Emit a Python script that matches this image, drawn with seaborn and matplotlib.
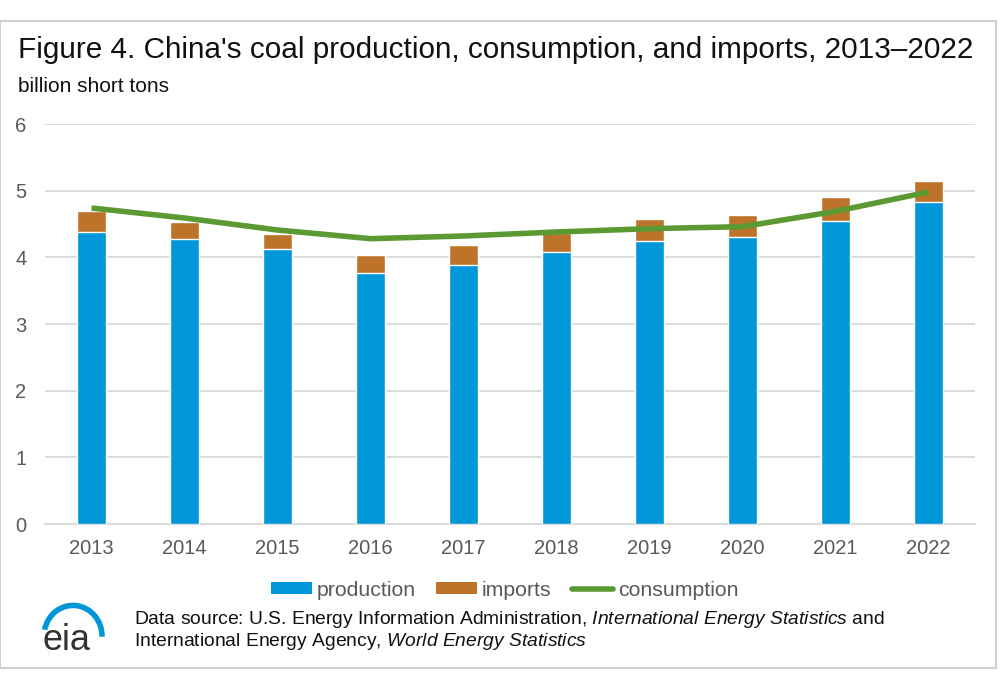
import numpy as np
import pandas as pd
import matplotlib
matplotlib.use("Agg")
import matplotlib.pyplot as plt
import seaborn as sns
from matplotlib.patches import Patch, Rectangle, Arc
from matplotlib.lines import Line2D

years = ["2013", "2014", "2015", "2016", "2017", "2018", "2019", "2020", "2021", "2022"]
production = [4.38, 4.27, 4.13, 3.76, 3.88, 4.08, 4.24, 4.30, 4.54, 4.83]
imports = [0.31, 0.26, 0.22, 0.27, 0.30, 0.29, 0.33, 0.34, 0.36, 0.31]
consumption = [4.74, 4.59, 4.41, 4.28, 4.32, 4.38, 4.43, 4.46, 4.69, 4.98]

BLUE = "#0096D7"
ORANGE = "#BD732A"
GREEN = "#5B9A32"

sns.set_theme(style="white")
FONT = ["Liberation Sans", "DejaVu Sans"]
plt.rcParams["font.family"] = FONT
plt.rcParams["mathtext.fontset"] = "custom"
plt.rcParams["mathtext.rm"] = "Liberation Sans"
plt.rcParams["mathtext.it"] = "Liberation Sans:italic"

df = pd.DataFrame({"year": years, "production": production, "imports": imports,
                   "consumption": consumption})
df["total"] = df["production"] + df["imports"]

fig = plt.figure(figsize=(10, 6.8), dpi=100)
ax = fig.add_axes([0.045, 1 - 524 / 680, 0.93, 400 / 680])

sns.barplot(data=df, x="year", y="total", color=ORANGE, width=0.31,
            saturation=1, ax=ax, zorder=2)
sns.barplot(data=df, x="year", y="production", color=BLUE, width=0.31,
            saturation=1, ax=ax, zorder=3)
sns.pointplot(data=df, x="year", y="consumption", color=GREEN, markers="",
              linestyles="-", ax=ax, zorder=4)
for ln in ax.lines:
    ln.set_linewidth(4)
    ln.set_solid_capstyle("butt")

ax.set_ylim(0, 6)
ax.set_xlim(-0.5, 9.5)
ax.set_yticks(range(0, 7))
ax.yaxis.grid(True, color="#D9D9D9", linewidth=1.3, zorder=0)
ax.set_axisbelow(True)
for s in ["top", "right", "left"]:
    ax.spines[s].set_visible(False)
ax.spines["bottom"].set_color("#D9D9D9")
ax.spines["bottom"].set_linewidth(1.3)
ax.set_xlabel("")
ax.set_ylabel("")
ax.tick_params(axis="both", length=0, labelsize=14.5, colors="#595959")
ax.tick_params(axis="x", pad=11)
for t in ax.get_yticklabels():
    t.set_horizontalalignment("left")
ax.tick_params(axis="y", pad=21.5)

fig.text(0.018, 1 - 50 / 680, "Figure 4. China's coal production, consumption, and imports, 2013\u20132022",
         fontsize=21.4, color="#111111", va="center", ha="left")
fig.text(0.018, 1 - 87 / 680, "billion short tons", fontsize=15,
         color="#111111", va="center", ha="left")

handles = [Patch(facecolor=BLUE, edgecolor="none"),
           Patch(facecolor=ORANGE, edgecolor="none"),
           Line2D([0], [0], color=GREEN, linewidth=4)]
fig.legend(handles, ["production", "imports", "consumption"], loc="center",
           bbox_to_anchor=(0.5045, 1 - 590 / 680), ncol=3, frameon=False,
           prop={"size": 15.3}, handlelength=1.93, handleheight=0.47,
           handletextpad=0.24, columnspacing=0.94, labelcolor="#595959")

fig.text(0.134, 1 - 619 / 680,
         "Data source: U.S. Energy Information Administration, $\\it{International\\ Energy\\ Statistics}$ and",
         fontsize=13.85, color="#111111", va="center", ha="left")
fig.text(0.134, 1 - 641 / 680,
         "International Energy Agency, $\\it{World\\ Energy\\ Statistics}$",
         fontsize=13.85, color="#111111", va="center", ha="left")

# eia logo
fig.text(0.042, 1 - 650 / 680, "eia", fontsize=26, color="#333333",
         va="baseline", ha="left")
fig.patches.append(Arc((0.073, 1 - 636 / 680), 0.058, 0.090, theta1=-2, theta2=162,
                       transform=fig.transFigure, color=BLUE, linewidth=4, figure=fig))

# outer border
fig.patches.append(Rectangle((0.0, 1 - 668 / 680), 0.996, (668 - 21) / 680,
                             transform=fig.transFigure, fill=False,
                             edgecolor="#D0D0D0", linewidth=1.5, figure=fig))

fig.savefig("out.png", dpi=100)
